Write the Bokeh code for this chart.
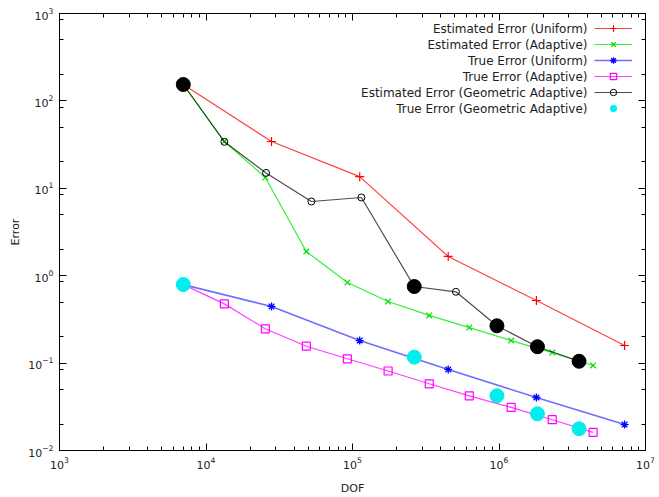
from bokeh.plotting import figure
from bokeh.models import LogAxis, Label, Legend, LegendItem, Range1d, FixedTicker
from bokeh.embed import file_html
from bokeh.resources import INLINE

# ---- data ----
dof_uniform = [7.0e3, 2.8e4, 1.12e5, 4.5e5, 1.8e6, 7.2e6]
est_uniform = [154, 34.3, 13.6, 1.66, 0.52, 0.159]
true_uniform = [0.79, 0.445, 0.181, 0.0846, 0.0404, 0.0198]

dof_adaptive = [7.0e3, 1.335e4, 2.54e4, 4.84e4, 9.22e4, 1.75e5, 3.34e5, 6.27e5, 1.21e6, 2.31e6, 4.39e6]
est_adaptive = [154, 34.3, 13.3, 1.89, 0.836, 0.507, 0.351, 0.255, 0.181, 0.132, 0.094]
true_adaptive = [0.79, 0.476, 0.247, 0.156, 0.112, 0.0812, 0.058, 0.0422, 0.0311, 0.0225, 0.0161]

dof_geo = [7.0e3, 1.335e4, 2.57e4, 5.24e4, 1.15e5, 2.64e5, 5.08e5, 9.68e5, 1.83e6, 3.52e6]
est_geo = [154, 34.0, 15.0, 7.06, 7.85, 0.752, 0.654, 0.267, 0.154, 0.105]
geo_true_idx = [0, 5, 7, 8, 9]
true_geo = [0.793, 0.117, 0.0423, 0.0263, 0.0177]

series_names = [
    "Estimated Error (Uniform)",
    "Estimated Error (Adaptive)",
    "True Error (Uniform)",
    "True Error (Adaptive)",
    "Estimated Error (Geometric Adaptive)",
    "True Error (Geometric Adaptive)",
]

x_exponents = [3, 4, 5, 6, 7]
y_exponents = [-2, -1, 0, 1, 2, 3]
x_minor_mult = [2, 3, 4, 5, 6, 7, 8, 9]
y_minor_mult = [2, 5, 8.5]

FONT = "DejaVu Sans"

x_major = [10.0 ** e for e in x_exponents]
x_minor = [m * 10.0 ** e for e in x_exponents[:-1] for m in x_minor_mult]
y_major = [10.0 ** e for e in y_exponents]
y_minor = [m * 10.0 ** e for e in y_exponents[:-1] for m in y_minor_mult]

p = figure(
    x_axis_type="log", y_axis_type="log",
    x_range=Range1d(x_major[0], x_major[-1]), y_range=Range1d(y_major[0], y_major[-1]),
    frame_width=586, frame_height=437,
    min_border_left=59, min_border_top=13, min_border_right=12, min_border_bottom=45,
    output_backend="svg", toolbar_location=None,
)
p.xgrid.visible = False
p.ygrid.visible = False
p.outline_line_color = "black"
p.outline_line_alpha = 1.0
p.background_fill_color = "white"
p.border_fill_color = "white"

xt = FixedTicker(ticks=x_major, minor_ticks=x_minor)
yt = FixedTicker(ticks=y_major, minor_ticks=y_minor)
p.xaxis.ticker = xt
p.yaxis.ticker = yt

for ax in (p.xaxis[0], p.yaxis[0]):
    ax.major_tick_in = 7
    ax.major_tick_out = 0
    ax.minor_tick_in = 4
    ax.minor_tick_out = 0
    ax.axis_line_color = "black"
    ax.major_tick_line_color = "black"
    ax.minor_tick_line_color = "black"
    ax.major_label_text_font = FONT
    ax.major_label_text_font_size = "11px"
    ax.major_label_text_color = "#222222"
    ax.axis_label_text_font = FONT
    ax.axis_label_text_font_size = "11px"
    ax.axis_label_text_font_style = "normal"
    ax.axis_label_text_color = "#222222"

p.xaxis.axis_label = "DOF"
p.yaxis.axis_label = "Error"
p.xaxis.major_label_standoff = 6
p.yaxis.major_label_standoff = 6
p.xaxis.axis_label_standoff = 10
p.yaxis.axis_label_standoff = 3

for place, tk in (("above", xt), ("right", yt)):
    ax = LogAxis(
        ticker=tk,
        major_tick_in=7, major_tick_out=0, minor_tick_in=4, minor_tick_out=0,
        major_label_text_font_size="1px", major_label_text_color=None, major_label_standoff=0,
        axis_line_color="black",
    )
    p.add_layout(ax, place)

# ---- series ----
r1l = p.line(dof_uniform, est_uniform, line_color="#ff0000", line_alpha=0.75, line_width=1.2)
r1m = p.scatter(dof_uniform, est_uniform, marker="cross", size=9, line_color="#ff0000", line_width=1.2)

r2l = p.line(dof_adaptive, est_adaptive, line_color="#00ee00", line_alpha=0.8, line_width=1.2)
r2m = p.scatter(dof_adaptive, est_adaptive, marker="x", size=8, line_color="#00dd00", line_width=1.2)

r3l = p.line(dof_uniform, true_uniform, line_color="#2020ff", line_alpha=0.65, line_width=1.6)
r3m = p.scatter(dof_uniform, true_uniform, marker="asterisk", size=8, line_color="#0000ff", line_width=1.3)

r4l = p.line(dof_adaptive, true_adaptive, line_color="#ff00ff", line_alpha=0.75, line_width=1.2)
r4m = p.scatter(dof_adaptive, true_adaptive, marker="square", size=8, line_color="#ff00ff",
                fill_color=None, line_width=1.2)

r5l = p.line(dof_geo, est_geo, line_color="#000000", line_alpha=0.7, line_width=1.2)
r5m = p.scatter(dof_geo, est_geo, marker="circle", size=7, line_color="#000000",
                fill_color=None, line_width=1.0)

geo_dof_sel = [dof_geo[i] for i in geo_true_idx]
geo_est_sel = [est_geo[i] for i in geo_true_idx]
p.scatter(geo_dof_sel, geo_est_sel, marker="circle", size=14, fill_color="black", line_color="black")

r6m = p.scatter(geo_dof_sel, true_geo, marker="circle", size=14, fill_color="#00eeee", line_color="#00eeee")

# ---- legend: glyph samples via Legend, text right-aligned via Labels ----
renderers = [[r1l, r1m], [r2l, r2m], [r3l, r3m], [r4l, r4m], [r5l, r5m], [r6m]]
items = [LegendItem(label="·", renderers=rs) for rs in renderers]
legend = Legend(
    items=items, location=(535, 334),
    glyph_width=38, glyph_height=16, label_width=0, label_standoff=0, label_height=16,
    spacing=0, padding=0, margin=0,
    border_line_color=None, background_fill_alpha=0,
    label_text_font_size="8px", label_text_color=None,
)
p.add_layout(legend)

for i, name in enumerate(series_names):
    p.add_layout(Label(
        x=528, y=422 - 16 * i, x_units="screen", y_units="screen", text=name,
        text_align="right", text_baseline="middle",
        text_font=FONT, text_font_size="12px", text_color="#222222",
    ))

open("out.html", "w").write(file_html(p, INLINE))
